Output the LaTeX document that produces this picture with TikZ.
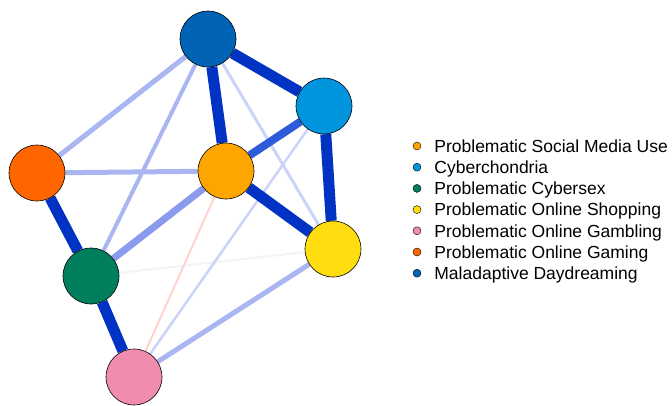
\documentclass[tikz,border=0pt]{standalone}
\usepackage{fontspec}
\setmainfont{Liberation Sans}
\usepackage{tikz}
\usetikzlibrary{positioning}
\usetikzlibrary{backgrounds}

\definecolor{daydream}{HTML}{0063B5}
\definecolor{cyberch}{HTML}{0095DD}
\definecolor{gaming}{HTML}{FF6600}
\definecolor{socmed}{HTML}{FFA500}
\definecolor{shopping}{HTML}{FFDD11}
\definecolor{cybersex}{HTML}{007F5F}
\definecolor{gambling}{HTML}{F08CB0}

\definecolor{edgedark}{HTML}{0033C4}
\definecolor{edgemid}{HTML}{2E5BDA}
\definecolor{edgesoft}{HTML}{8A9AEC}
\definecolor{edgelight}{HTML}{AAB6F2}
\definecolor{edgefaint}{HTML}{CCD3F8}
\definecolor{edgeghost}{HTML}{F2F3F9}
\definecolor{edgered}{HTML}{FFD2D2}

\tikzstyle{net_style}=[
	x=1pt, y=-1pt,
	symptom/.style={circle,draw=black,line width=0.6pt,minimum size=56pt,inner sep=0pt},
	key/.style={circle,draw=black,line width=0.4pt,minimum size=8pt,inner sep=0pt,node distance=21.2pt},
	key_text/.style={inner sep=0pt,text height=12.5pt,text depth=0pt,font=\fontsize{17.5}{20}\selectfont},
	strong_edge/.style={draw=edgedark,line width=11pt},
	mid_edge/.style={draw=edgemid,line width=8pt},
	soft_edge/.style={draw=edgesoft,line width=7pt},
	light_edge/.style={draw=edgelight,line width=5pt},
	faint_edge/.style={draw=edgefaint,line width=3pt},
	ghost_edge/.style={draw=edgeghost,line width=2pt},
	neg_edge/.style={draw=edgered,line width=2pt}
]

\begin{document}
\begin{tikzpicture}[net_style]
		\useasboundingbox (0,0) rectangle (672,405);
		
		% network
		\node[symptom,fill=daydream] (md) at (208,39)  {};
		\node[symptom,fill=cyberch]  (cy) at (324,106) {};
		\node[symptom,fill=gaming]   (og) at (37,173)  {};
		\node[symptom,fill=socmed]   (sm) at (226,171) {};
		\node[symptom,fill=shopping] (sh) at (333,249) {};
		\node[symptom,fill=cybersex] (cs) at (91,276)  {};
		\node[symptom,fill=gambling] (gb) at (134,377) {};
		
		\begin{scope}[on background layer]
		\path (cs) edge [ghost_edge]  (sh)
		(sm) edge [neg_edge]    (gb)
		(cy) edge [ghost_edge, draw=edgefaint, line width=2.5pt] (gb)
		(md) edge [faint_edge]  (sh)
		(md) edge [light_edge]  (og)
		(md) edge [light_edge, line width=4pt]  (cs)
		(sm) edge [light_edge]  (og)
		(sh) edge [light_edge]  (gb)
		(sm) edge [soft_edge]   (cs)
		(cy) edge [mid_edge]    (sm)
		(md) edge [strong_edge] (cy)
		(md) edge [strong_edge] (sm)
		(cy) edge [strong_edge] (sh)
		(sm) edge [strong_edge] (sh)
		(og) edge [strong_edge] (cs)
		(cs) edge [strong_edge] (gb);
		\end{scope}
		
		% legend
		\node[key,fill=socmed]   (k1) at (417,146) {};
		\node[key,fill=cyberch]  (k2)[below of=k1] {};
		\node[key,fill=cybersex] (k3)[below of=k2] {};
		\node[key,fill=shopping] (k4)[below of=k3] {};
		\node[key,fill=gambling] (k5)[below of=k4] {};
		\node[key,fill=gaming]   (k6)[below of=k5] {};
		\node[key,fill=daydream] (k7)[below of=k6] {};
		
		\node[key_text] (t1)[right=13pt of k1] {Problematic Social Media Use};
		\node[key_text] (t2)[right=13pt of k2] {Cyberchondria};
		\node[key_text] (t3)[right=13pt of k3] {Problematic Cybersex};
		\node[key_text] (t4)[right=13pt of k4] {Problematic Online Shopping};
		\node[key_text] (t5)[right=13pt of k5] {Problematic Online Gambling};
		\node[key_text] (t6)[right=13pt of k6] {Problematic Online Gaming};
		\node[key_text] (t7)[right=13pt of k7] {Maladaptive Daydreaming};
		
\end{tikzpicture}
\end{document}
